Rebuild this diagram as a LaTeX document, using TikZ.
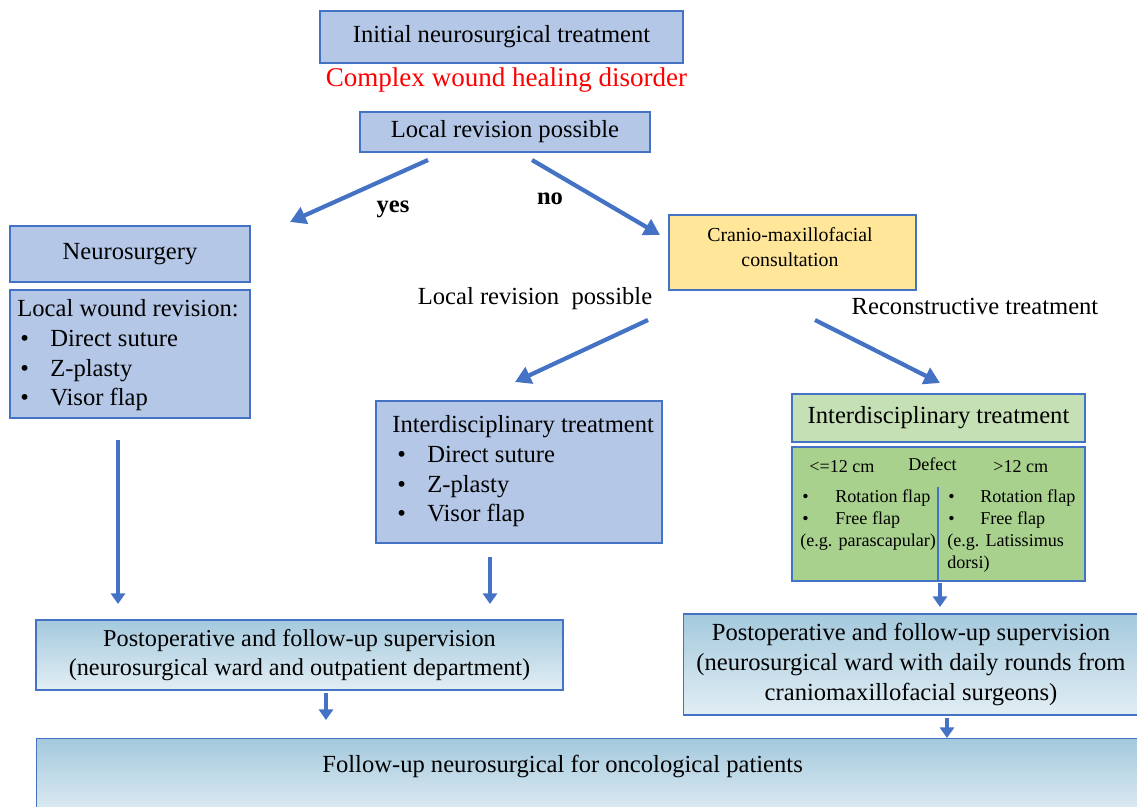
\documentclass[tikz,border=0pt]{standalone}
\usepackage{fontspec}
\setmainfont{Liberation Serif}
\usepackage{xcolor}
\usepackage{tikz}
\usetikzlibrary{arrows.meta, positioning, shapes}
\definecolor{boxblue}{RGB}{180, 199, 231}
\definecolor{edgeblue}{RGB}{68, 114, 196}
\definecolor{boxyellow}{RGB}{255, 230, 153}
\definecolor{lightgreen}{RGB}{197, 224, 180}
\definecolor{boxgreen}{RGB}{169, 209, 142}
\definecolor{gradtop}{RGB}{164, 201, 221}
\definecolor{gradbot}{RGB}{226, 238, 244}
\newcommand{\fsbig}{\fontsize{14}{16.8}\selectfont}
\newcommand{\fspost}{\fontsize{13.8}{16.4}\selectfont}
\newcommand{\fscmf}{\fontsize{11.3}{14.2}\selectfont}
\newcommand{\fsdefect}{\fontsize{10.3}{12.5}\selectfont}
\newcommand{\fsred}{\fontsize{15.4}{18}\selectfont}
\tikzset{
  box/.style={draw=edgeblue, line width=0.8pt, inner sep=0pt},
  bluebox/.style={box, fill=boxblue},
  yellowbox/.style={box, fill=boxyellow},
  greenbox/.style={box, fill=lightgreen},
  defectbox/.style={box, fill=boxgreen},
  gradbox/.style={box, top color=gradtop, bottom color=gradbot},
  txt/.style={inner sep=0pt},
  flow/.style={draw=edgeblue, line width=2.4pt, -{Triangle[length=9pt, width=10pt]}},
  drop/.style={draw=edgeblue, line width=1.9pt, -{Triangle[length=6pt, width=8pt]}}
}

\begin{document}
\begin{tikzpicture}[x=0.02cm, y=-0.02cm]
\useasboundingbox (0,0) rectangle (1137,807);

% Start
\node[bluebox, minimum width=7.26cm, minimum height=1.04cm, font=\fsbig] (init) at (501.5,37) {Initial neurosurgical treatment};
\node[txt, anchor=base, font=\fsred, text=red] (disorder) at (506.5,87) {Complex wound healing disorder};
\node[bluebox, minimum width=5.8cm, minimum height=0.8cm, font=\fsbig] (lrp) at (505,132) {Local revision possible};

% Decision
\coordinate (yesfrom) at (428,160);
\coordinate (yesto) at (290,222);
\coordinate (nofrom) at (532,160);
\coordinate (noto) at (660,235);
\draw[flow] (yesfrom) -- (yesto);
\draw[flow] (nofrom) -- (noto);
\node[txt, anchor=base, font=\fsbig\bfseries] (yes) at (393,213) {yes};
\node[txt, anchor=base, font=\fsbig\bfseries] (no) at (550,205) {no};

% Neurosurgery branch
\node[bluebox, minimum width=4.8cm, minimum height=1.12cm, font=\fsbig] (neuro) at (130,254) {Neurosurgery};
\node[bluebox, minimum width=4.8cm, minimum height=2.56cm] (lwr) at (130,354) {};
\node[txt, anchor=base west] (lwrtext) at (17,317) {
\begin{minipage}[t]{4.6cm}
\fsbig Local wound revision:\\
\hspace*{0.06cm}\makebox[0.6cm][l]{\textbullet}Direct suture\\
\hspace*{0.06cm}\makebox[0.6cm][l]{\textbullet}Z-plasty\\
\hspace*{0.06cm}\makebox[0.6cm][l]{\textbullet}Visor flap
\end{minipage}
};

% Cranio-maxillofacial branch
\node[yellowbox, minimum width=4.94cm, minimum height=1.5cm] (cmf) at (792.5,252.5) {};
\node[txt, align=center, font=\fscmf] (cmftext) at (790,247.5) {Cranio-maxillofacial\\consultation};
\node[txt, anchor=base, font=\fsbig] (localpos) at (535,305) {Local revision\ \ possible};
\node[txt, anchor=base, font=\fsbig] (recon) at (975,315) {Reconstructive treatment};
\coordinate (midfrom) at (648,320);
\coordinate (midto) at (515,382);
\coordinate (recfrom) at (815,320);
\coordinate (recto) at (940,383);
\draw[flow] (midfrom) -- (midto);
\draw[flow] (recfrom) -- (recto);

% Interdisciplinary, local
\node[bluebox, minimum width=5.72cm, minimum height=2.84cm] (inter1) at (519,472) {};
\node[txt, anchor=base west] (inter1text) at (392,433) {
\begin{minipage}[t]{5.5cm}
\fsbig Interdisciplinary treatment\\
\hspace*{0.1cm}\makebox[0.6cm][l]{\textbullet}Direct suture\\
\hspace*{0.1cm}\makebox[0.6cm][l]{\textbullet}Z-plasty\\
\hspace*{0.1cm}\makebox[0.6cm][l]{\textbullet}Visor flap
\end{minipage}
};

% Interdisciplinary, reconstructive
\node[greenbox, minimum width=5.86cm, minimum height=0.96cm, font=\fsbig] (inter2) at (938.5,418) {Interdisciplinary treatment};
\node[defectbox, minimum width=5.86cm, minimum height=2.68cm] (defect) at (938.5,514) {};
\coordinate (divtop) at (938,487);
\draw[edgeblue, line width=0.8pt] (divtop) -- (divtop |- defect.south);
\node[txt, anchor=base west, font=\fsdefect] (small) at (809,473) {<=12 cm};
\node[txt, anchor=base west, font=\fsdefect] (defecthead) at (908,471) {Defect};
\node[txt, anchor=base west, font=\fsdefect] (large) at (993,473) {>12 cm};
\node[txt, anchor=base west] (smalltext) at (800,503) {
\begin{minipage}[t]{2.8cm}
\fsdefect
\hspace*{0.04cm}\makebox[0.66cm][l]{\textbullet}Rotation flap\\
\hspace*{0.04cm}\makebox[0.66cm][l]{\textbullet}Free flap\\
(e.g. parascapular)
\end{minipage}
};
\node[txt, anchor=base west] (largetext) at (947,503) {
\begin{minipage}[t]{2.7cm}
\fsdefect
\hspace*{0.02cm}\makebox[0.64cm][l]{\textbullet}Rotation flap\\
\hspace*{0.02cm}\makebox[0.64cm][l]{\textbullet}Free flap\\
(e.g. Latissimus\\
dorsi)
\end{minipage}
};

% Down to supervision
\coordinate (d1from) at (118,440);
\coordinate (d1to) at (118,604);
\coordinate (d2from) at (490,557);
\coordinate (d2to) at (490,604);
\coordinate (d3from) at (940,583);
\coordinate (d3to) at (940,607);
\draw[drop] (d1from) -- (d1to);
\draw[drop] (d2from) -- (d2to);
\draw[drop] (d3from) -- (d3to);

% Supervision
\node[gradbox, minimum width=10.54cm, minimum height=1.4cm, align=center, font=\fspost] (postL) at (299.5,655) {Postoperative and follow-up supervision\\(neurosurgical ward and outpatient department)};
\node[gradbox, minimum width=9.1cm, minimum height=2.02cm, align=center, font=\fsbig] (postR) at (911,664.5) {Postoperative and follow-up supervision\\(neurosurgical ward with daily rounds from\\craniomaxillofacial surgeons)};

% Follow-up
\coordinate (d4from) at (326,693);
\coordinate (d4to) at (326,720);
\coordinate (d5from) at (947,718);
\coordinate (d5to) at (947,738);
\draw[drop] (d4from) -- (d4to);
\draw[drop] (d5from) -- (d5to);
\node[gradbox, anchor=north west, minimum width=22.3cm, minimum height=1.6cm] (follow) at (36,738) {};
\node[txt, anchor=base west, font=\fsbig] (followtext) at (322,772) {Follow-up neurosurgical for oncological patients};
\end{tikzpicture}
\end{document}
